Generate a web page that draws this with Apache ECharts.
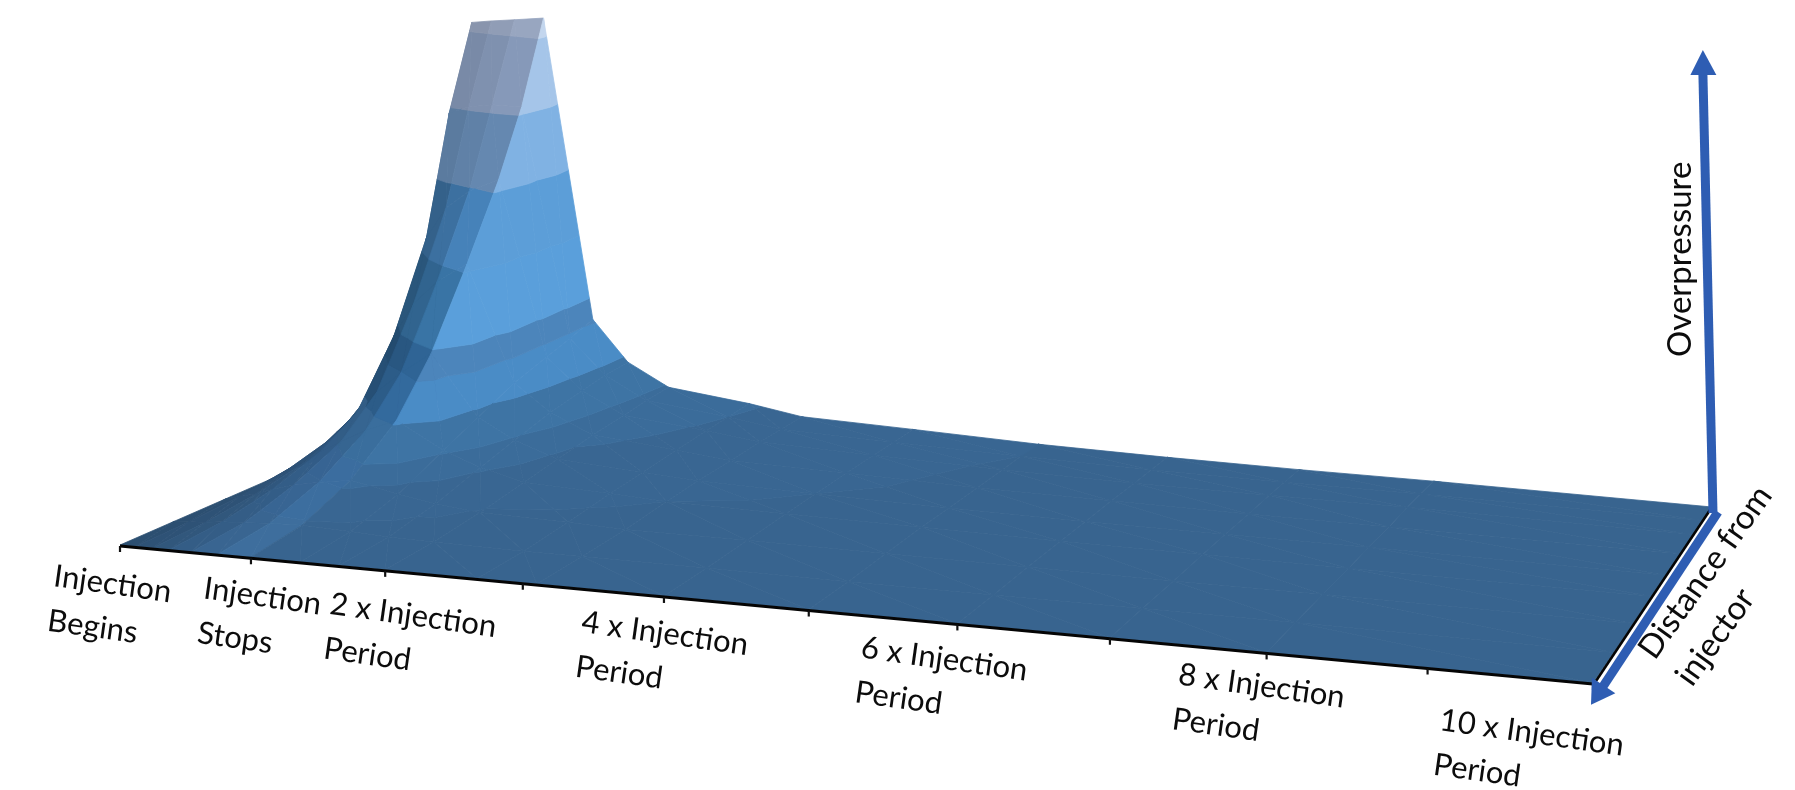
<!DOCTYPE html>
<html><head><meta charset="utf-8">
<style>html,body{margin:0;padding:0;background:#fff}#c{width:1795px;height:790px;filter:blur(0.55px)}</style>
<script src="https://cdn.jsdelivr.net/npm/echarts@6/dist/echarts.min.js"></script>
</head><body><div id="c"></div>
<script>
// ---- data ----
const distanceRows = [0, 0.09, 0.18, 0.3, 0.43, 0.55, 0.7, 0.85, 1];
const timeColumns  = [0, 0.12, 0.25, 0.38, 0.55, 0.75, 1, 1.37, 1.66, 2, 2.67, 3.1, 4, 5, 6, 7, 8, 10];
const pressureT000 = [0, 0, 0, 0, 0, 0, 0, 0, 0];
const pressureT012 = [240, 125, 68, 40, 20, 10, 4, 1, 0];
const pressureT025 = [316, 205, 115, 64, 34, 18, 8, 2, 0];
const pressureT038 = [388, 308, 195, 112, 52, 30, 14, 4, 0];
const pressureT055 = [391, 316, 226, 146, 75, 42, 20, 5, 0];
const pressureT075 = [394, 320, 245, 170, 96, 55, 25, 7, 0];
const pressureT100 = [398, 320, 259, 190, 118, 68, 30, 8, 0];
const pressureT137 = [100, 92, 85, 75, 58, 42, 20, 6, 0];
const pressureT166 = [60, 58, 54, 48, 38, 28, 14, 4, 0];
const pressureT200 = [38, 36, 33, 29, 23, 17, 9, 3, 0];
const pressureT267 = [28, 26, 24, 21, 17, 13, 7, 2, 0];
const pressureT310 = [19, 18, 17, 15, 13, 10, 5, 2, 0];
const pressureT400 = [15, 14, 13, 12, 10, 8, 5, 2, 0];
const pressureT500 = [10, 10, 9, 8, 7, 6, 4, 1, 0];
const pressureT600 = [7, 7, 6, 6, 5, 4, 3, 1, 0];
const pressureT700 = [5, 5, 5, 4, 4, 3, 2, 1, 0];
const pressureT800 = [4, 4, 4, 3, 3, 2, 2, 1, 0];
const pressureT999 = [0, 0, 0, 0, 0, 0, 0, 0, 0];
const pressureColumns = [pressureT000, pressureT012, pressureT025, pressureT038, pressureT055, pressureT075,
  pressureT100, pressureT137, pressureT166, pressureT200, pressureT267, pressureT310, pressureT400,
  pressureT500, pressureT600, pressureT700, pressureT800, pressureT999];
const timeTicks = [0, 1, 2, 3, 4, 5, 6, 7, 8, 9, 10];
const labelTicks = [0, 1, 2, 4, 6, 8, 10];
const tickLabels = ['Injection\nBegins', 'Injection\nStops', '2 x Injection\nPeriod', '4 x Injection\nPeriod',
  '6 x Injection\nPeriod', '8 x Injection\nPeriod', '10 x Injection\nPeriod'];
const distanceTitle = 'Distance from\ninjector';
const pressureTitle = 'Overpressure';
const arrowHeight = 457;
const contourLevels = [0, 10, 26, 40, 65, 97, 121, 183, 248, 313, 380];

// ---- view and style ----
const labelOffsets = [[-66, 31], [-47, 31], [-55, 34], [-82, 26], [-96, 24], [-88, 22], [-153, 37]];
const lightBands = ['#38648f', '#396692', '#3b6c9a', '#3e74a4', '#4a8cc6', '#4c85bb', '#5a9fdb', '#5c9ed8', '#80b2e3', '#a5c5e9', '#c3d6ee'];
const darkBands  = ['#38648f', '#376491', '#366391', '#35648f', '#2b5a85', '#28557e', '#30628c', '#3b6e9d', '#5f80a6', '#7e90ae', '#8f9cb5'];
const columnShade = [0.62, 0.68, 0.76, 0.88, 1.02, 1.18];
const ARROW = '#2e5db3';
const FONT = 'Lato';
const corners = {A: [120, 545], B: [1593, 683], C: [1712, 507], D: [436, 407]}; // floor: front-left, front-right, back-right, back-left

// projective floor mapping (t/10, distance) -> picture plane
function homography(p00, p10, p11, p01) {
  const dx1 = p10[0] - p11[0], dx2 = p01[0] - p11[0], sx = p00[0] - p10[0] + p11[0] - p01[0];
  const dy1 = p10[1] - p11[1], dy2 = p01[1] - p11[1], sy = p00[1] - p10[1] + p11[1] - p01[1];
  const det = dx1 * dy2 - dx2 * dy1;
  const g = (sx * dy2 - dx2 * sy) / det, h = (dx1 * sy - sx * dy1) / det;
  return {a: p10[0] - p00[0] + g * p10[0], b: p01[0] - p00[0] + h * p01[0], c: p00[0],
          d: p10[1] - p00[1] + g * p10[1], e: p01[1] - p00[1] + h * p01[1], f: p00[1], g, h};
}
const H = homography(corners.D, corners.C, corners.B, corners.A);
function project(t, dist, p) {
  const u = t / 10, v = dist, w = H.g * u + H.h * v + 1;
  return [(H.a * u + H.b * v + H.c) / w - 0.02 * p, (H.d * u + H.e * v + H.f) / w - p];
}

// cells of the surface, far to near
const cells = [];
distanceRows.slice(0, -1).forEach((d0, r) => {
  timeColumns.slice(0, -1).forEach((t0, c) => {
    cells.push([t0, timeColumns[c + 1], d0, distanceRows[r + 1],
      pressureColumns[c][r], pressureColumns[c + 1][r], pressureColumns[c][r + 1], pressureColumns[c + 1][r + 1], c]);
  });
});

function clipBand(tri, lo, hi) {
  function clip(poly, keep, level) {
    const out = [];
    poly.forEach((a, i) => {
      const b = poly[(i + 1) % poly.length];
      const ka = keep(a[2]), kb = keep(b[2]);
      if (ka) out.push(a);
      if (ka !== kb) {
        const f = (level - a[2]) / (b[2] - a[2]);
        out.push([a[0] + f * (b[0] - a[0]), a[1] + f * (b[1] - a[1]), level]);
      }
    });
    return out;
  }
  let poly = clip(tri, z => z >= lo, lo);
  if (poly.length) poly = clip(poly, z => z <= hi, hi);
  return poly;
}
function shadeColor(hex, s) {
  const n = parseInt(hex.slice(1), 16);
  const ch = [n >> 16 & 255, n >> 8 & 255, n & 255].map(v => Math.max(0, Math.min(255, Math.round(v * s))));
  return 'rgb(' + ch.join(',') + ')';
}
function bandColor(band, col) {
  if (col >= 6) return lightBands[band];
  let s = columnShade[col];
  if (band < 4) s = 1 + (s - 1) * 0.55; else if (band >= 8) s = 1 + (s - 1) * 0.35;
  return shadeColor(darkBands[band], s);
}

function renderCell(params, api) {
  const t0 = api.value(0), t1 = api.value(1), d0 = api.value(2), d1 = api.value(3);
  const z00 = api.value(4), z10 = api.value(5), z01 = api.value(6), z11 = api.value(7), col = api.value(8);
  const P = [[t0, d0, z00], [t1, d0, z10], [t1, d1, z11], [t0, d1, z01]];
  const tris = [[P[0], P[1], P[2]], [P[0], P[2], P[3]]];
  const children = [];
  tris.forEach(tri => {
    contourLevels.forEach((lo, b) => {
      const hi = b + 1 < contourLevels.length ? contourLevels[b + 1] : 1e6;
      const poly = clipBand(tri, lo, hi);
      if (poly.length < 3) return;
      const pts = poly.map(q => api.coord(project(q[0], q[1], q[2])));
      const color = bandColor(b, col);
      children.push({type: 'polygon', shape: {points: pts}, style: {fill: color, stroke: color, lineWidth: 0.8}, silent: true});
    });
  });
  return {type: 'group', children};
}

function renderAxes(params, api) {
  const ch = [];
  const line = (a, b, w, color) => ch.push({type: 'line', shape: {x1: a[0], y1: a[1], x2: b[0], y2: b[1]},
    style: {stroke: color, lineWidth: w, lineCap: 'butt'}, silent: true});
  const c = q => api.coord(q);
  const fl = (t, d, dx, dy) => { const p = project(t, d, 0); return c([p[0] + (dx || 0), p[1] + (dy || 0)]); };
  line(fl(0, 1, 0, 1), fl(10, 1, 0, 1), 2.8, '#050505');
  line(fl(10, 1, 3, -2), fl(10, 0, 0, 0), 2.6, '#050505');
  timeTicks.forEach(t => line(fl(t, 1, 0, 1), fl(t, 1, 0, 7), 2.2, '#111'));
  // overpressure arrow
  const base = project(10, 0, 0), tip = project(10, 0, arrowHeight);
  line(c([base[0] + 1, base[1] + 6]), c([tip[0], tip[1] + 22]), 9, ARROW);
  ch.push({type: 'polygon', shape: {points: [c(tip), c([tip[0] - 12.5, tip[1] + 25]), c([tip[0] + 13.5, tip[1] + 25])]},
    style: {fill: ARROW}, silent: true});
  // distance arrow, drawn alongside the right edge of the floor
  const a0 = fl(10, 0, 6, 5), a1 = fl(10, 1, 9, 5);
  const vx = a1[0] - a0[0], vy = a1[1] - a0[1], len = Math.hypot(vx, vy), ux = vx / len, uy = vy / len;
  const tip2 = [a1[0] + ux * 20, a1[1] + uy * 20];
  line(a0, a1, 9, ARROW);
  ch.push({type: 'polygon', shape: {points: [tip2,
    [a1[0] - ux * 3 - uy * 14, a1[1] - uy * 3 + ux * 14], [a1[0] - ux * 3 + uy * 14, a1[1] - uy * 3 - ux * 14]]},
    style: {fill: ARROW}, silent: true});
  return {type: 'group', children: ch};
}

function textEl(x, y, text, deg, lh, size) {
  return {type: 'text', x, y, rotation: deg * Math.PI / 180, silent: true,
    style: {text, x: 0, y: -lh / 2, fontFamily: FONT, fontSize: size, lineHeight: lh, fill: '#0c0c0c', align: 'left', verticalAlign: 'top'}};
}
function renderLabel(params, api) {
  const i = api.value(0), t = labelTicks[i], off = labelOffsets[i];
  const p = api.coord(project(t, 1, 0));
  return textEl(p[0] + off[0], p[1] + off[1], tickLabels[i], -8, 45, 31);
}
function renderTitles(params, api) {
  const c0 = api.coord(project(10, 1, 0)), c1 = api.coord(project(10, 0, 0));
  return {type: 'group', children: [
    textEl(c0[0] + 53, c0[1] - 28, distanceTitle, 54.4, 46, 33),
    textEl(c1[0] - 32, c1[1] - 150, pressureTitle, 90, 34, 33)
  ]};
}

const chart = echarts.init(document.getElementById('c'), null, {renderer: 'canvas'});
chart.setOption({
  animation: false,
  backgroundColor: '#fff',
  tooltip: {show: false},
  grid: {left: 0, right: 0, top: 0, bottom: 0},
  xAxis: {type: 'value', min: 0, max: 1795, show: false},
  yAxis: {type: 'value', min: 0, max: 790, inverse: true, show: false},
  series: [
    {type: 'custom', coordinateSystem: 'cartesian2d', renderItem: renderCell, data: cells, progressive: 0, clip: false,
      encode: {x: 0, y: 2}},
    {type: 'custom', coordinateSystem: 'cartesian2d', renderItem: renderAxes, data: [[0]], clip: false, encode: {x: 0, y: 0}},
    {type: 'custom', coordinateSystem: 'cartesian2d', renderItem: renderLabel, data: labelTicks.map((t, i) => [i]), clip: false, encode: {x: 0, y: 0}},
    {type: 'custom', coordinateSystem: 'cartesian2d', renderItem: renderTitles, data: [[0]], clip: false, encode: {x: 0, y: 0}}
  ]
});
</script></body></html>
